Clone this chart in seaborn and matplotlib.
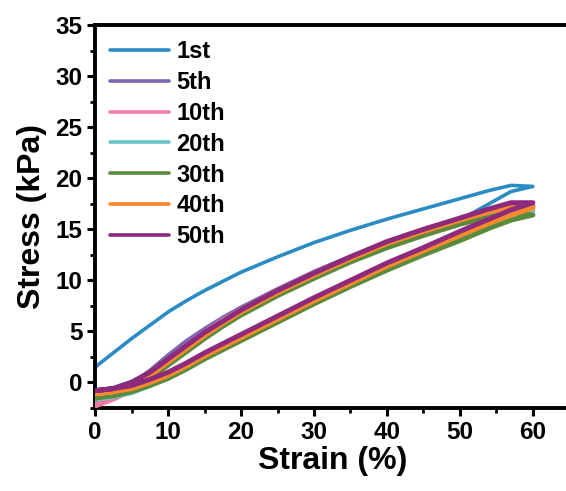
import matplotlib
matplotlib.use("Agg")
import matplotlib.pyplot as plt
from matplotlib.ticker import MultipleLocator
import seaborn as sns
import pandas as pd

# ── 資料────────────────────────────────────────────────────────────────
LOAD_X = [0, 2.5, 5, 7.5, 10, 12.5, 15, 17.5, 20, 25, 30, 35, 40, 45, 50, 54, 57, 60]
UNLOAD_X = [60, 57, 54, 50, 45, 40, 35, 30, 25, 20, 17.5, 15, 12.5, 10, 7.5, 5, 2.5, 0]

CYCLES = ["1st", "5th", "10th", "20th", "30th", "40th", "50th"]

LOAD_1ST = [1.5, 2.9, 4.3, 5.6, 6.9, 8.0, 9.0, 9.9, 10.8, 12.3, 13.7, 14.9, 16.0, 17.0, 18.0, 18.8, 19.3, 19.2]
UNLOAD_1ST = [19.2, 18.7, 17.5, 15.9, 14.7, 13.4, 11.9, 10.4, 8.7, 6.8, 5.8, 4.7, 3.4, 2.2, 1.0, 0.1, -0.5, -0.9]

LOAD_5TH = [-2.0, -1.3, -0.2, 1.1, 2.6, 4.0, 5.2, 6.3, 7.3, 9.1, 10.8, 12.3, 13.7, 14.9, 16.0, 16.9, 17.4, 17.3]
UNLOAD_5TH = [17.3, 16.7, 15.9, 14.7, 13.2, 11.6, 9.9, 8.2, 6.4, 4.6, 3.7, 2.8, 1.8, 0.9, 0.1, -0.7, -1.5, -2.2]

LOAD_10TH = [-2.2, -1.6, -0.6, 0.7, 2.2, 3.6, 4.9, 6.1, 7.1, 9.0, 10.7, 12.2, 13.6, 14.9, 16.0, 16.8, 17.3, 17.2]
UNLOAD_10TH = [17.2, 16.6, 15.8, 14.6, 13.1, 11.5, 9.8, 8.1, 6.3, 4.5, 3.6, 2.7, 1.7, 0.8, 0.0, -0.8, -1.6, -2.3]

LOAD_20TH = [-1.6, -1.3, -0.5, 0.6, 2.0, 3.3, 4.6, 5.8, 6.9, 8.8, 10.5, 12.0, 13.5, 14.7, 15.8, 16.5, 17.0, 16.8]
UNLOAD_20TH = [16.8, 16.2, 15.4, 14.3, 12.8, 11.3, 9.7, 7.9, 6.1, 4.3, 3.4, 2.5, 1.5, 0.5, -0.3, -1.0, -1.4, -1.6]

LOAD_30TH = [-1.5, -1.2, -0.6, 0.4, 1.7, 3.0, 4.3, 5.5, 6.6, 8.5, 10.2, 11.8, 13.2, 14.4, 15.5, 16.2, 16.6, 16.4]
UNLOAD_30TH = [16.4, 15.9, 15.1, 13.9, 12.5, 11.0, 9.4, 7.7, 5.9, 4.1, 3.2, 2.3, 1.3, 0.4, -0.3, -0.9, -1.3, -1.5]

LOAD_40TH = [-1.1, -0.9, -0.3, 0.7, 2.0, 3.3, 4.6, 5.8, 6.9, 8.8, 10.5, 12.1, 13.6, 14.8, 15.9, 16.7, 17.2, 17.1]
UNLOAD_40TH = [17.1, 16.4, 15.6, 14.4, 12.9, 11.4, 9.7, 8.0, 6.2, 4.4, 3.5, 2.6, 1.6, 0.7, 0.0, -0.6, -0.9, -1.1]

LOAD_50TH = [-0.8, -0.6, 0.0, 1.0, 2.3, 3.6, 4.9, 6.0, 7.1, 9.0, 10.7, 12.3, 13.8, 15.0, 16.1, 17.0, 17.6, 17.6]
UNLOAD_50TH = [17.6, 16.9, 16.0, 14.8, 13.2, 11.7, 10.0, 8.3, 6.5, 4.7, 3.8, 2.9, 1.9, 1.0, 0.3, -0.3, -0.6, -0.8]

LOADS = [LOAD_1ST, LOAD_5TH, LOAD_10TH, LOAD_20TH, LOAD_30TH, LOAD_40TH, LOAD_50TH]
UNLOADS = [UNLOAD_1ST, UNLOAD_5TH, UNLOAD_10TH, UNLOAD_20TH, UNLOAD_30TH, UNLOAD_40TH, UNLOAD_50TH]

COLORS = ["#2b8cc4", "#7b68b0", "#f07ca0", "#6cc3cc", "#5a8a3c", "#f98a2c", "#8e2a7c"]

# ── 樣式 ────────────────────────────────────────────────────────────────────
sns.set_theme(style="ticks")
plt.rcParams["font.family"] = ["Liberation Sans", "DejaVu Sans"]
plt.rcParams["font.weight"] = "bold"
plt.rcParams["axes.labelweight"] = "bold"
for key in ["text.color", "axes.labelcolor", "xtick.color", "ytick.color", "axes.edgecolor"]:
    plt.rcParams[key] = "black"

fig = plt.figure(figsize=(5.66, 4.91), dpi=100)
ax = fig.add_axes([0.168, 0.169, 0.838, 0.780])

for i, name in enumerate(CYCLES):
    df = pd.DataFrame({
        "strain": LOAD_X + UNLOAD_X,
        "stress": LOADS[i] + UNLOADS[i],
    })
    lw = 2.6 if name == "1st" else 3.6
    sns.lineplot(data=df, x="strain", y="stress", sort=False, estimator=None,
                 color=COLORS[i], linewidth=lw, label=name, ax=ax,
                 solid_capstyle="round", solid_joinstyle="round", zorder=2 + i)

ax.set_xlim(0, 65)
ax.set_ylim(-2.5, 35)
ax.xaxis.set_major_locator(MultipleLocator(10))
ax.xaxis.set_minor_locator(MultipleLocator(5))
ax.yaxis.set_major_locator(MultipleLocator(5))
ax.yaxis.set_minor_locator(MultipleLocator(2.5))
ax.tick_params(which="major", direction="out", length=6, width=2.2, labelsize=17.5, pad=3)
ax.tick_params(which="minor", direction="out", length=3.5, width=2.0)
for s in ax.spines.values():
    s.set_linewidth(2.8)

ax.set_xlabel("Strain (%)", fontsize=23, fontweight="bold", labelpad=2)
ax.set_ylabel("Stress (kPa)", fontsize=23, fontweight="bold", labelpad=6)

leg = ax.legend(loc="upper left", frameon=False, fontsize=17, handlelength=2.5,
                handletextpad=0.3, labelspacing=0.33, borderaxespad=0.3,
                borderpad=0.35)
for h in leg.get_lines():
    h.set_linewidth(2.6)

fig.savefig("out.png", dpi=100)
